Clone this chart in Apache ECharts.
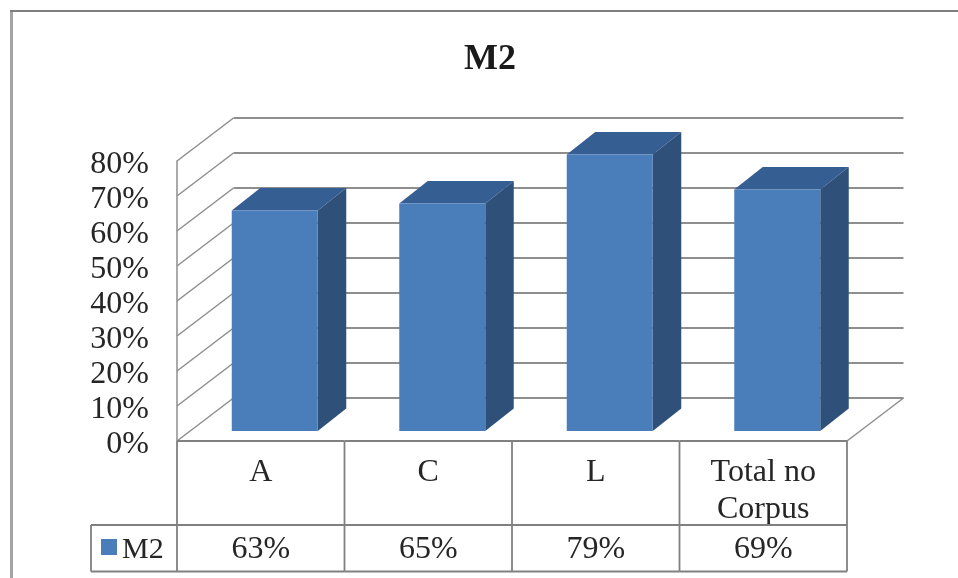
<!DOCTYPE html>
<html>
<head>
<meta charset="utf-8">
<style>html,body{margin:0;padding:0;background:#fff}#c{width:958px;height:578px}</style>
<script src="https://cdn.jsdelivr.net/npm/echarts@6/dist/echarts.min.js"></script>
</head>
<body>
<div id="c"></div>
<script>
const categories = ['A', 'C', 'L', 'Total no\nCorpus'];
const seriesName = 'M2';
const values = [63, 65, 79, 69];
const axisMax = 80;
const axisStep = 10;
const gridTicks = [0, 10, 20, 30, 40, 50, 60, 70, 80];

// Drawing constants for the 3D box look
const FONT = '"Liberation Serif", "Times New Roman", serif';
const INK = '#262626';
const GRID_COLOR = '#8e8e8e';
const TABLE_COLOR = '#808080';
const FACE = '#4a7ebb';
const TOP = '#355f92';
const SIDE = '#2f5078';
const WALL_DX = 56.5, WALL_DY = -43; // depth of the chart's floor
const BAR_DX = 28.5, BAR_DY = -22.5; // depth of a single bar
const BAR_WIDTH = 86;
const BAR_SHIFT_X = 14, BAR_SHIFT_Y = -10;
const ROW1_BOTTOM = 525, ROW2_BOTTOM = 571.5, LEGEND_LEFT = 91;

const chart = echarts.init(document.getElementById('c'), null, {renderer: 'canvas'});

function line(x1, y1, x2, y2, color, width) {
  return {type: 'line', shape: {x1, y1, x2, y2}, style: {stroke: color, lineWidth: width}};
}

// Back wall, side wall and floor lines for one tick
function renderWall(params, api) {
  const v = api.value(0);
  const left = api.coord([0, v]);
  const size = api.size([1, 0]);
  const x0 = left[0] - size[0] / 2;
  const x1 = x0 + size[0] * categories.length;
  const y = left[1];
  const kids = [
    line(x0, y, x0 + WALL_DX, y + WALL_DY, GRID_COLOR, 1.5),
    line(x0 + WALL_DX, y + WALL_DY, x1 + WALL_DX, y + WALL_DY, GRID_COLOR, 1.8)
  ];
  if (v === 0) {
    kids.push(line(x1, y, x1 + WALL_DX, y + WALL_DY, GRID_COLOR, 1.5));
  }
  return {type: 'group', children: kids};
}

// One bar: front face plus the top and side faces
function renderBar(params, api) {
  const cat = api.value(0);
  const top = api.coord([cat, api.value(1)]);
  const base = api.coord([cat, 0]);
  const x0 = top[0] + BAR_SHIFT_X - BAR_WIDTH / 2;
  const x1 = x0 + BAR_WIDTH;
  const yT = top[1] + BAR_SHIFT_Y;
  const yB = base[1] + BAR_SHIFT_Y;
  return {
    type: 'group',
    children: [
      {type: 'polygon', shape: {points: [[x0, yT], [x0 + BAR_DX, yT + BAR_DY], [x1 + BAR_DX, yT + BAR_DY], [x1, yT]]}, style: {fill: TOP}},
      {type: 'polygon', shape: {points: [[x1, yT], [x1 + BAR_DX, yT + BAR_DY], [x1 + BAR_DX, yB + BAR_DY], [x1, yB]]}, style: {fill: SIDE}},
      {type: 'rect', shape: {x: x0, y: yT, width: BAR_WIDTH, height: yB - yT}, style: {fill: FACE}}
    ]
  };
}

// Data table under the plot: borders, legend key and value row
function renderTable(params, api) {
  const cat = api.value(0);
  const c = api.coord([cat, 0]);
  const w = api.size([1, 0])[0];
  const x0 = c[0] - w / 2, x1 = c[0] + w / 2, yAxis = c[1];
  const kids = [
    line(x1, yAxis, x1, ROW2_BOTTOM, TABLE_COLOR, 1.8),
    line(x0, ROW1_BOTTOM, x1, ROW1_BOTTOM, TABLE_COLOR, 1.8),
    line(x0, ROW2_BOTTOM, x1, ROW2_BOTTOM, TABLE_COLOR, 1.8),
    line(x0, yAxis, x1, yAxis, TABLE_COLOR, 2.2),
    {type: 'text', style: {
      text: api.value(1) + '%', x: c[0], y: (ROW1_BOTTOM + ROW2_BOTTOM) / 2 + 1.5,
      align: 'center', verticalAlign: 'middle', fill: INK, font: '32px ' + FONT
    }}
  ];
  if (cat === 0) {
    kids.push(line(x0, yAxis, x0, ROW2_BOTTOM, TABLE_COLOR, 1.8));
    kids.push(line(LEGEND_LEFT, ROW1_BOTTOM, x0, ROW1_BOTTOM, TABLE_COLOR, 1.8));
    kids.push(line(LEGEND_LEFT, ROW2_BOTTOM, x0, ROW2_BOTTOM, TABLE_COLOR, 1.8));
    kids.push(line(LEGEND_LEFT, ROW1_BOTTOM, LEGEND_LEFT, ROW2_BOTTOM, TABLE_COLOR, 1.8));
  }
  return {type: 'group', children: kids};
}

chart.setOption({
  animation: false,
  backgroundColor: '#fff',
  title: {
    text: seriesName,
    left: 485, top: 37, textAlign: 'center',
    textStyle: {fontFamily: FONT, fontSize: 36, fontWeight: 'bold', color: '#1a1a1a'}
  },
  legend: {
    show: true,
    left: 96, top: 530,
    itemWidth: 16, itemHeight: 16, itemGap: 6,
    formatter: name => '{t|' + name + '}',
    data: [{name: seriesName, icon: 'rect', itemStyle: {color: FACE}}],
    textStyle: {
      rich: {t: {fontFamily: FONT, fontSize: 30, color: INK, padding: [6, 0, 0, 0]}}
    }
  },
  grid: {left: 177, right: 111, top: 161, bottom: 137},
  xAxis: {
    type: 'category',
    data: categories,
    axisLine: {show: false},
    axisTick: {show: false},
    axisLabel: {
      margin: 13, interval: 0, color: INK,
      fontFamily: FONT, fontSize: 32, lineHeight: 37
    }
  },
  yAxis: {
    type: 'value',
    min: 0, max: axisMax, interval: axisStep,
    axisLine: {show: true, lineStyle: {color: GRID_COLOR, width: 1.5}},
    axisTick: {show: false},
    splitLine: {show: false},
    axisLabel: {
      margin: 28,
      formatter: v => '{t|' + v + '%}',
      rich: {t: {fontFamily: FONT, fontSize: 32, color: INK, padding: [8, 0, 0, 0]}}
    }
  },
  series: [
    {
      type: 'custom', name: 'wall', silent: true, z: 1,
      renderItem: renderWall,
      encode: {y: 0},
      data: gridTicks.map(v => [v])
    },
    {
      type: 'custom', name: 'table', silent: true, z: 2,
      renderItem: renderTable,
      encode: {x: 0},
      data: values.map((v, i) => [i, v])
    },
    {
      type: 'custom', name: seriesName, z: 3,
      renderItem: renderBar,
      itemStyle: {color: FACE},
      encode: {x: 0, y: 1},
      data: values.map((v, i) => [i, v])
    }
  ],
  graphic: [
    // Outer chart frame, open on the right and bottom edges of the page
    {type: 'line', shape: {x1: 11.5, y1: 10, x2: 11.5, y2: 578}, style: {stroke: '#a4a4a4', lineWidth: 3}, silent: true},
    {type: 'line', shape: {x1: 10, y1: 11, x2: 958, y2: 11}, style: {stroke: '#7f7f7f', lineWidth: 2}, silent: true}
  ]
});
</script>
</body>
</html>
